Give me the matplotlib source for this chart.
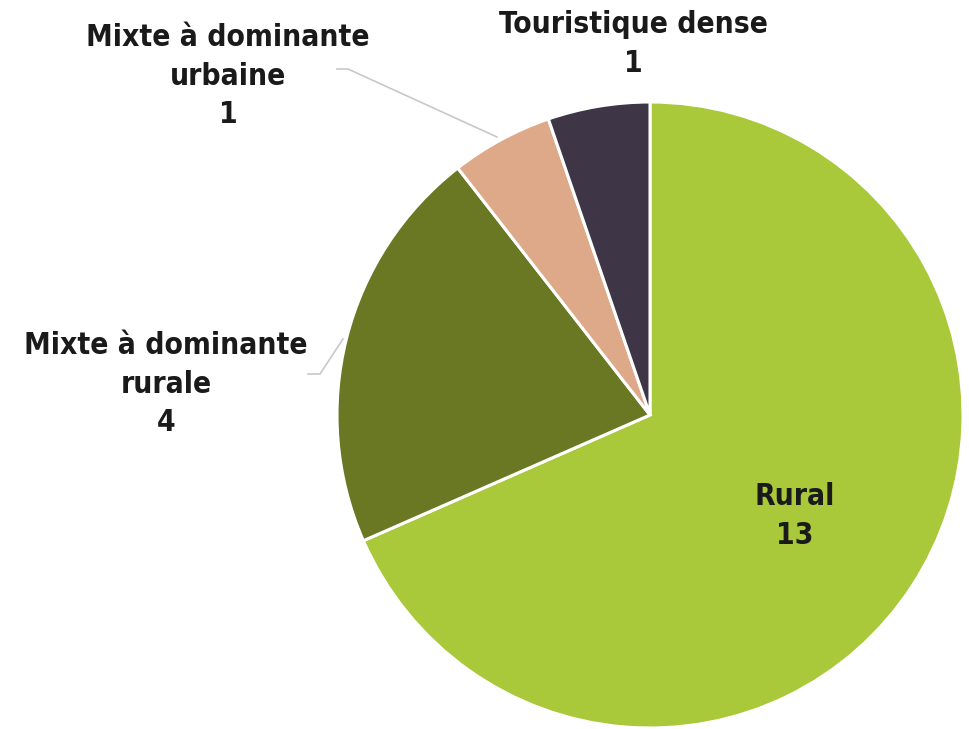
import matplotlib
matplotlib.use("Agg")
import matplotlib.pyplot as plt

categories = ["Rural", "Mixte à dominante rurale", "Mixte à dominante urbaine", "Touristique dense"]
label_lines = ["Rural", "Mixte à dominante\nrurale", "Mixte à dominante\nurbaine", "Touristique dense"]
values = [13, 4, 1, 1]
colors = ["#A9C83A", "#6A7723", "#DEA989", "#3E3647"]

W, H = 969, 729
fig = plt.figure(figsize=(W / 100, H / 100), dpi=100)
ax = fig.add_axes([0, 0, 1, 1])

cx, cy, r = 650, H - 415, 313
ax.pie(values, colors=colors, startangle=90, counterclock=False,
       center=(cx, cy), radius=r, frame=True,
       wedgeprops=dict(edgecolor="white", linewidth=2.2))
ax.set_xlim(0, W)
ax.set_ylim(0, H)
ax.set_aspect("equal")
ax.axis("off")

font = dict(family=["DejaVu Sans"], stretch="condensed", weight="bold",
            fontsize=21.5, color="#1A1A1A", ha="center", va="center",
            linespacing=1.4)

# label positions (pixel coords, y from top)
pos = [(795, 516), (166, 384), (228, 76), (633, 44)]
for lab, v, (x, y) in zip(label_lines, values, pos):
    ax.text(x, H - y, f"{lab}\n{v}", **font)

# leader lines
ax.plot([308, 320, 343], [H - 374, H - 374, H - 339], color="#C8C8C8", lw=1.2)
ax.plot([337, 348, 497], [H - 69, H - 69, H - 137], color="#C8C8C8", lw=1.2)

fig.savefig("out.png", dpi=100)
